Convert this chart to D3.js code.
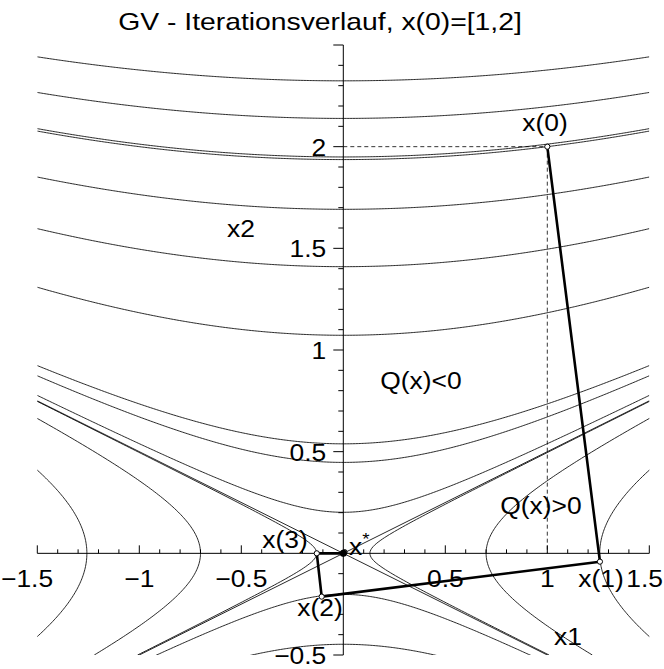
<!DOCTYPE html>
<html>
<head>
<meta charset="utf-8">
<script src="https://cdn.jsdelivr.net/npm/d3@7"></script>
<style>
  html, body { margin: 0; padding: 0; background: #fff; }
  svg { display: block; }
  text { font-family: "Liberation Sans", Arial, Helvetica, sans-serif; fill: #000; }
</style>
</head>
<body>
<svg id="chart" width="664" height="669"></svg>
<script>
// Quadratic form Q(x) = x1^2 - 4*x2^2 (saddle at the origin)
const qA = 1, qB = 4;

// Contour levels with Q < 0 (branches above / below the asymptotes)
const levelsNeg = [-21.6, -18.3, -15.2, -15.0, -11.45, -7.95, -4.6, -1.16, -0.80, -0.163];
// Contour levels with Q > 0 (branches left / right of the asymptotes)
const levelsPos = [0.017, 0.49, 1.58];
// Q = 0: the two asymptotes through x*
const levelsZero = [0];

// Iterates of the gradient method
const iterNames = ["x(0)", "x(1)", "x(2)", "x(3)", "x*"];
const iterX1 = [1.0, 1.258, -0.106, -0.13, 0.0];
const iterX2 = [2.0, -0.041, -0.213, 0.0, 0.0];
// points clustering at x*
const tailX1 = [0.006, 0.003, 0.0];
const tailX2 = [0.006, 0.002, 0.0];

// Axis ticks
const xMajor = [-1.5, -1, -0.5, 0.5, 1, 1.5];
const xMajorLabels = ["\u22121.5", "\u22121", "\u22120.5", "0.5", "1", "1.5"];
const yMajor = [-0.5, 0.5, 1, 1.5, 2];
const yMajorLabels = ["\u22120.5", "0.5", "1", "1.5", "2"];

const title = "GV - Iterationsverlauf, x(0)=[1,2]";

const W = 664;
const svg = d3.select("#chart");
const x = d3.scaleLinear().domain([-1.5, 1.5]).range([37.3, 649.3]);
const y = d3.scaleLinear().domain([-0.5, 2.5]).range([655, 45]);

svg.append("defs").append("clipPath").attr("id", "plotClip")
  .append("rect")
  .attr("x", x(-1.5)).attr("y", y(2.5))
  .attr("width", x(1.5) - x(-1.5)).attr("height", y(-0.5) - y(2.5));

const line = d3.line().x(d => x(d[0])).y(d => y(d[1]));
const N = 400;
const contourG = svg.append("g").attr("clip-path", "url(#plotClip)")
  .attr("fill", "none").attr("stroke", "#111").attr("stroke-width", 0.9);

// Q = c < 0: x2 = ±sqrt((x1^2 - c)/4)
levelsNeg.forEach(c => {
  [1, -1].forEach(s => {
    const pts = d3.range(N + 1).map(i => {
      const u = -1.5 + 3 * i / N;
      return [u, s * Math.sqrt((qA * u * u - c) / qB)];
    });
    contourG.append("path").attr("d", line(pts));
  });
});

// Q = c > 0: x1 = ±sqrt(c + 4 x2^2)
levelsPos.forEach(c => {
  [1, -1].forEach(s => {
    const pts = d3.range(N + 1).map(i => {
      const v = -0.5 + 3 * i / N;
      return [s * Math.sqrt((c + qB * v * v) / qA), v];
    });
    contourG.append("path").attr("d", line(pts));
  });
});

// Q = 0: straight asymptotes x2 = ±x1/2
levelsZero.forEach(() => {
  [1, -1].forEach(s => {
    const pts = [-1.5, 1.5].map(u => [u, s * u * Math.sqrt(qA / qB)]);
    contourG.append("path").attr("d", line(pts));
  });
});

// Axes
const axG = svg.append("g").attr("stroke", "#000").attr("stroke-width", 1);
axG.append("line").attr("x1", x(-1.5)).attr("x2", x(1.5)).attr("y1", y(0)).attr("y2", y(0));
axG.append("line").attr("x1", x(0)).attr("x2", x(0)).attr("y1", y(-0.5)).attr("y2", y(2.5));

// minor / major ticks
const xTicks = d3.range(-15, 16).map(k => k / 10).filter(v => Math.abs(v) > 1e-9);
xTicks.forEach(v => {
  const major = Math.abs(v * 2 - Math.round(v * 2)) < 1e-9;
  axG.append("line").attr("x1", x(v)).attr("x2", x(v))
    .attr("y1", y(0)).attr("y2", y(0) - (major ? 8 : 4));
});
const yTicks = d3.range(-5, 26).map(k => k / 10).filter(v => Math.abs(v) > 1e-9);
yTicks.forEach(v => {
  const major = Math.abs(v * 2 - Math.round(v * 2)) < 1e-9;
  axG.append("line").attr("y1", y(v)).attr("y2", y(v))
    .attr("x1", x(0)).attr("x2", x(0) - (major ? 10 : 5));
});

// text helper: Helvetica-like face, slightly widened
const fs = 24, sx = 1.1;
function label(str, px, py, anchor, scaleX) {
  return svg.append("text")
    .attr("transform", `translate(${px},${py}) scale(${scaleX || sx},1)`)
    .attr("text-anchor", anchor || "middle").attr("font-size", fs).text(str);
}

// tick labels (outermost ones kept inside the page)
xMajor.forEach((v, i) => {
  const last = i === xMajor.length - 1, first = i === 0;
  const px = first ? 1 : last ? W - 1 : x(v);
  label(xMajorLabels[i], px, y(0) + 34, first ? "start" : last ? "end" : "middle");
});
yMajor.forEach((v, i) => label(yMajorLabels[i], x(0) - 17, y(v) + 9, "end"));

// dashed guides from x(0) to the axes
const guide = svg.append("g").attr("stroke", "#000").attr("stroke-width", 0.8)
  .attr("stroke-dasharray", "4,3");
guide.append("line").attr("x1", x(0)).attr("x2", x(iterX1[0]))
  .attr("y1", y(iterX2[0])).attr("y2", y(iterX2[0]));
guide.append("line").attr("x1", x(iterX1[0])).attr("x2", x(iterX1[0]))
  .attr("y1", y(iterX2[0])).attr("y2", y(0));

// iteration path
const path = iterX1.map((v, i) => [v, iterX2[i]]);
svg.append("path").attr("d", line(path)).attr("fill", "none")
  .attr("stroke", "#000").attr("stroke-width", 2.6).attr("stroke-linejoin", "round");

// iterate markers
const pts = path.concat(tailX1.map((v, i) => [v, tailX2[i]]));
svg.append("g").selectAll("circle").data(pts).join("circle")
  .attr("cx", d => x(d[0])).attr("cy", d => y(d[1])).attr("r", 2.6)
  .attr("fill", "#fff").attr("stroke", "#000").attr("stroke-width", 1);
svg.append("circle").attr("cx", x(0)).attr("cy", y(0)).attr("r", 3.5).attr("fill", "#000");

// title and annotations
label(title, 320, 30, "middle", 1.18);
label("x2", 241, 237);
label("x1", 568, 645);
label("Q(x)<0", 421, 389);
label("Q(x)>0", 541, 514);
label("x(0)", 545, 131);
label("x(1)", 601, 587);
label("x(2)", 320, 616);
label("x(3)", 285, 548);

const xs = svg.append("text")
  .attr("transform", `translate(349,555) scale(${sx},1)`).attr("font-size", fs);
xs.append("tspan").text("x");
xs.append("tspan").attr("dy", -10).attr("font-size", 17).text("*");
</script>
</body>
</html>
